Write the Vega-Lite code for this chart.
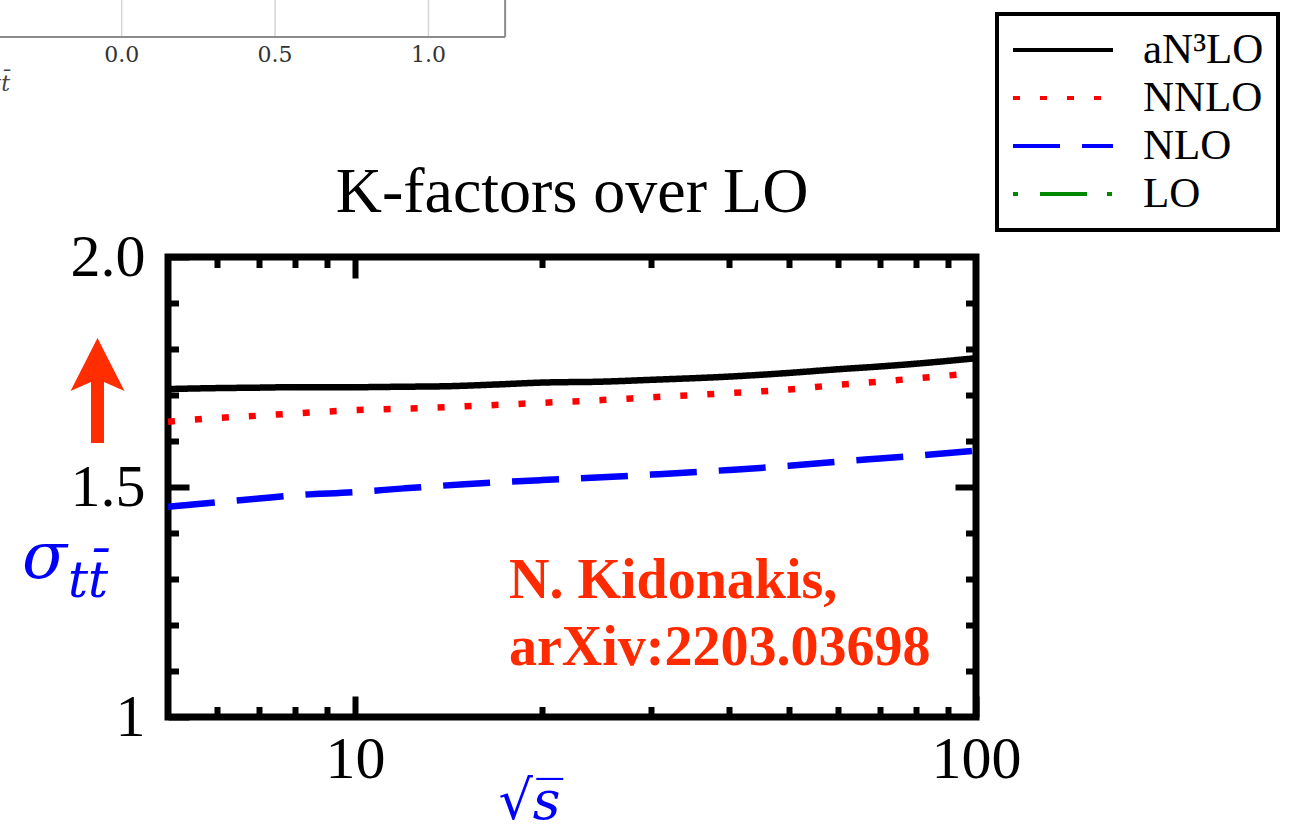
{
  "$schema": "https://vega.github.io/schema/vega-lite/v6.json",
  "width": 808,
  "height": 460,
  "autosize": {"type": "none"},
  "padding": {"left": 168, "top": 257, "right": 315, "bottom": 111},
  "background": "white",
  "config": {"view": {"stroke": "black", "strokeWidth": 7}, "font": "Liberation Serif"},
  "title": {"text": "K-factors over LO", "font": "Liberation Serif", "fontSize": 64, "fontWeight": "normal", "color": "black", "anchor": "middle", "baseline": "alphabetic", "offset": -278, "frame": "group"},
  "datasets": {
    "kfactors": [
      {"s": 5, "K": 1.713, "order": "aN\u00b3LO"}, {"s": 6, "K": 1.715, "order": "aN\u00b3LO"}, {"s": 7, "K": 1.716, "order": "aN\u00b3LO"}, {"s": 8, "K": 1.717, "order": "aN\u00b3LO"}, {"s": 10, "K": 1.717, "order": "aN\u00b3LO"}, {"s": 12, "K": 1.718, "order": "aN\u00b3LO"}, {"s": 14, "K": 1.719, "order": "aN\u00b3LO"}, {"s": 17, "K": 1.723, "order": "aN\u00b3LO"}, {"s": 20, "K": 1.727, "order": "aN\u00b3LO"}, {"s": 25, "K": 1.729, "order": "aN\u00b3LO"}, {"s": 30, "K": 1.733, "order": "aN\u00b3LO"}, {"s": 40, "K": 1.740, "order": "aN\u00b3LO"}, {"s": 50, "K": 1.748, "order": "aN\u00b3LO"}, {"s": 60, "K": 1.756, "order": "aN\u00b3LO"}, {"s": 70, "K": 1.762, "order": "aN\u00b3LO"}, {"s": 80, "K": 1.768, "order": "aN\u00b3LO"}, {"s": 100, "K": 1.780, "order": "aN\u00b3LO"},
      {"s": 5, "K": 1.642, "order": "NNLO"}, {"s": 6, "K": 1.650, "order": "NNLO"}, {"s": 7, "K": 1.655, "order": "NNLO"}, {"s": 8, "K": 1.660, "order": "NNLO"}, {"s": 10, "K": 1.667, "order": "NNLO"}, {"s": 13, "K": 1.672, "order": "NNLO"}, {"s": 16, "K": 1.677, "order": "NNLO"}, {"s": 20, "K": 1.683, "order": "NNLO"}, {"s": 25, "K": 1.689, "order": "NNLO"}, {"s": 30, "K": 1.695, "order": "NNLO"}, {"s": 40, "K": 1.704, "order": "NNLO"}, {"s": 50, "K": 1.712, "order": "NNLO"}, {"s": 60, "K": 1.722, "order": "NNLO"}, {"s": 70, "K": 1.729, "order": "NNLO"}, {"s": 80, "K": 1.736, "order": "NNLO"}, {"s": 100, "K": 1.748, "order": "NNLO"},
      {"s": 5, "K": 1.457, "order": "NLO"}, {"s": 6, "K": 1.467, "order": "NLO"}, {"s": 7, "K": 1.475, "order": "NLO"}, {"s": 8, "K": 1.482, "order": "NLO"}, {"s": 10, "K": 1.489, "order": "NLO"}, {"s": 12, "K": 1.497, "order": "NLO"}, {"s": 15, "K": 1.506, "order": "NLO"}, {"s": 20, "K": 1.515, "order": "NLO"}, {"s": 25, "K": 1.521, "order": "NLO"}, {"s": 30, "K": 1.527, "order": "NLO"}, {"s": 40, "K": 1.537, "order": "NLO"}, {"s": 50, "K": 1.546, "order": "NLO"}, {"s": 60, "K": 1.555, "order": "NLO"}, {"s": 70, "K": 1.562, "order": "NLO"}, {"s": 80, "K": 1.568, "order": "NLO"}, {"s": 100, "K": 1.579, "order": "NLO"}
    ],
    "note": [{"s": 17.7, "K": 1.2587, "text": "N. Kidonakis,"}, {"s": 17.7, "K": 1.113, "text": "arXiv:2203.03698"}],
    "arrow": [{"s": 3.85, "K": 1.7098}],
    "sub": [{"s": 3.45, "K": 1.2609, "text": "tt\u0304"}],
    "fragGrid": [{"v": 0, "y1": 2.4783, "y2": 2.56}, {"v": 0.5, "y1": 2.4783, "y2": 2.56}, {"v": 1.0, "y1": 2.4783, "y2": 2.56}],
    "fragFrame": [{"x1": -0.42, "x2": 1.25, "y1": 2.4783, "y2": 2.4783}, {"x1": 1.25, "x2": 1.25, "y1": 2.4783, "y2": 2.56}],
    "fragLabels": [{"v": 0, "K": 2.461, "label": "0.0"}, {"v": 0.5, "K": 2.461, "label": "0.5"}, {"v": 1.0, "K": 2.461, "label": "1.0"}],
    "fragTitle": [{"v": -0.364, "K": 2.361, "text": "tt\u0304"}]
  },
  "layer": [
    {
      "data": {"name": "fragGrid"},
      "mark": {"type": "rule", "color": "#d4d4d4", "strokeWidth": 1.5},
      "encoding": {
        "x": {"field": "v", "type": "quantitative", "scale": {"type": "linear", "domain": [0.151, 2.785], "zero": false, "nice": false}, "axis": null},
        "y": {"field": "y1", "type": "quantitative", "scale": {"domain": [1, 2], "zero": false, "nice": false}, "axis": null},
        "y2": {"field": "y2"}
      }
    },
    {
      "data": {"name": "fragFrame"},
      "mark": {"type": "rule", "color": "#8c8c8c", "strokeWidth": 2},
      "encoding": {
        "x": {"field": "x1", "type": "quantitative", "scale": {"type": "linear", "domain": [0.151, 2.785], "zero": false, "nice": false}, "axis": null},
        "x2": {"field": "x2"},
        "y": {"field": "y1", "type": "quantitative", "scale": {"domain": [1, 2], "zero": false, "nice": false}, "axis": null},
        "y2": {"field": "y2"}
      }
    },
    {
      "data": {"name": "fragLabels"},
      "mark": {"type": "text", "font": "DejaVu Serif", "fontSize": 22, "color": "#333333", "align": "center", "baseline": "top"},
      "encoding": {
        "x": {"field": "v", "type": "quantitative", "scale": {"type": "linear", "domain": [0.151, 2.785], "zero": false, "nice": false}, "axis": null},
        "y": {"field": "K", "type": "quantitative", "scale": {"domain": [1, 2], "zero": false, "nice": false}, "axis": null},
        "text": {"field": "label"}
      }
    },
    {
      "data": {"name": "fragTitle"},
      "mark": {"type": "text", "font": "DejaVu Serif", "fontStyle": "italic", "fontSize": 22, "color": "#444444", "align": "right", "baseline": "alphabetic"},
      "encoding": {
        "x": {"field": "v", "type": "quantitative", "scale": {"type": "linear", "domain": [0.151, 2.785], "zero": false, "nice": false}, "axis": null},
        "y": {"field": "K", "type": "quantitative", "scale": {"domain": [1, 2], "zero": false, "nice": false}, "axis": null},
        "text": {"field": "text"}
      }
    },
    {
      "data": {"name": "kfactors"},
      "mark": {"type": "line", "strokeWidth": 6.5, "strokeCap": "butt", "interpolate": "monotone"},
      "encoding": {
        "x": {"field": "s", "type": "quantitative", "scale": {"type": "log", "domain": [5, 100], "nice": false},
          "axis": {"orient": "bottom", "values": [10, 100], "format": "d", "labelFlush": false, "labelOverlap": false, "labelFont": "Liberation Serif", "labelFontSize": 60, "labelColor": "black", "labelPadding": 34, "labelBaseline": "top", "tickSize": -21, "tickWidth": 6, "tickColor": "black", "domain": false, "grid": false,
            "title": "\u221as\u0305", "titleFont": "DejaVu Serif", "titleFontStyle": "italic", "titleFontWeight": "normal", "titleFontSize": 54, "titleColor": "#0000ff", "titleX": 361, "titleY": 58, "titleBaseline": "top", "titleAlign": "center"}},
        "y": {"field": "K", "type": "quantitative", "scale": {"domain": [1, 2], "zero": false, "nice": false},
          "axis": {"orient": "left", "values": [1, 1.5, 2], "labelExpr": "datum.value == 1 ? '1' : format(datum.value, '.1f')", "labelFont": "Liberation Serif", "labelFontSize": 60, "labelColor": "black", "labelPadding": 44, "labelBaseline": "middle", "labelFlush": false, "labelOverlap": false, "tickSize": -21, "tickWidth": 6, "tickColor": "black", "domain": false, "grid": false,
            "title": "\u03c3", "titleFont": "DejaVu Serif", "titleFontStyle": "italic", "titleFontWeight": "normal", "titleFontSize": 66, "titleColor": "#0000ff", "titleAngle": 0, "titleX": -124, "titleY": 320, "titleAlign": "center", "titleBaseline": "alphabetic"}},
        "color": {"field": "order", "type": "nominal",
          "scale": {"domain": ["aN\u00b3LO", "NNLO", "NLO", "LO"], "range": ["#000000", "#ff0000", "#0000ff", "#008800"]},
          "legend": {"orient": "none", "legendX": 829, "legendY": -243, "title": null, "symbolType": "M-1,0L4,0", "symbolSize": 1600, "symbolStrokeWidth": 4, "symbolFillColor": "transparent", "labelFont": "Liberation Serif", "labelFontSize": 43, "labelColor": "black", "labelOffset": 88, "labelLimit": 0, "rowPadding": 4, "padding": 14, "strokeColor": "black", "fillColor": "white",
            "encode": {
              "legend": {"update": {"stroke": {"value": "black"}, "strokeWidth": {"value": 4}}},
              "symbols": {"update": {"fill": {"value": "transparent"}, "strokeDash": {"signal": "datum.value === 'NNLO' ? [4,13] : datum.value === 'NLO' ? [30,13] : datum.value === 'LO' ? [3,14,30,13] : [1,0]"}, "strokeWidth": {"value": 4}}}
            }}},
        "strokeDash": {"field": "order", "type": "nominal",
          "scale": {"domain": ["aN\u00b3LO", "NNLO", "NLO", "LO"], "range": [[1, 0], [7, 20], [47, 22], [5, 22, 47, 20]]}}
      }
    },
    {
      "data": {"name": "note"},
      "mark": {"type": "text", "font": "Liberation Serif", "fontWeight": "bold", "fontSize": 56, "color": "#ff2a00", "align": "left", "baseline": "alphabetic"},
      "encoding": {
        "x": {"field": "s", "type": "quantitative", "scale": {"type": "log", "domain": [5, 100], "nice": false},
          "axis": {"orient": "bottom", "values": [6, 7, 8, 9, 20, 30, 40, 50, 60, 70, 80, 90], "labels": false, "tickSize": -10.5, "tickWidth": 6, "tickColor": "black", "domain": false, "grid": false, "title": null}},
        "y": {"field": "K", "type": "quantitative", "scale": {"domain": [1, 2], "zero": false, "nice": false},
          "axis": {"orient": "left", "values": [1.1, 1.2, 1.3, 1.4, 1.6, 1.7, 1.8, 1.9], "labels": false, "tickSize": -10.5, "tickWidth": 6, "tickColor": "black", "domain": false, "grid": false, "title": null}},
        "text": {"field": "text"}
      }
    },
    {
      "data": {"name": "arrow"},
      "mark": {"type": "point", "shape": "M0,-1L0.514,0.01L0.124,-0.16L0.124,1L-0.124,1L-0.124,-0.16L-0.514,0.01Z", "filled": true, "color": "#ff2d00", "size": 11025, "opacity": 1, "strokeWidth": 0},
      "encoding": {
        "x": {"field": "s", "type": "quantitative", "scale": {"type": "log", "domain": [5, 100], "nice": false},
          "axis": {"orient": "top", "values": [10], "labels": false, "tickSize": -21, "tickWidth": 6, "tickColor": "black", "domain": false, "grid": false, "title": null}},
        "y": {"field": "K", "type": "quantitative", "scale": {"domain": [1, 2], "zero": false, "nice": false},
          "axis": {"orient": "right", "values": [1.5], "labels": false, "tickSize": -21, "tickWidth": 6, "tickColor": "black", "domain": false, "grid": false, "title": null}}
      }
    },
    {
      "data": {"name": "sub"},
      "mark": {"type": "text", "font": "DejaVu Serif", "fontStyle": "italic", "fontSize": 50, "color": "#0000ff", "align": "left", "baseline": "alphabetic"},
      "encoding": {
        "x": {"field": "s", "type": "quantitative", "scale": {"type": "log", "domain": [5, 100], "nice": false},
          "axis": {"orient": "top", "values": [6, 7, 8, 9, 20, 30, 40, 50, 60, 70, 80, 90], "labels": false, "tickSize": -10.5, "tickWidth": 6, "tickColor": "black", "domain": false, "grid": false, "title": null}},
        "y": {"field": "K", "type": "quantitative", "scale": {"domain": [1, 2], "zero": false, "nice": false},
          "axis": {"orient": "right", "values": [1.1, 1.2, 1.3, 1.4, 1.6, 1.7, 1.8, 1.9], "labels": false, "tickSize": -10.5, "tickWidth": 6, "tickColor": "black", "domain": false, "grid": false, "title": null}},
        "text": {"field": "text"}
      }
    }
  ],
  "resolve": {"scale": {"x": "independent"}, "axis": {"y": "independent"}}
}
